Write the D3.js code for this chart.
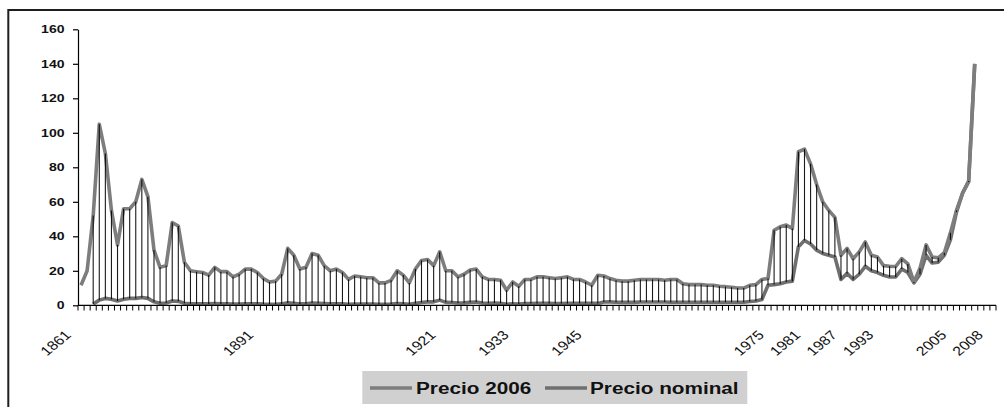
<!DOCTYPE html>
<html><head><meta charset="utf-8">
<script src="https://cdn.jsdelivr.net/npm/d3@7"></script>
<style>html,body{margin:0;padding:0;background:#fff}svg{display:block}</style>
</head><body>
<script>
// Axis slots (category axis, one per year, plus 3 trailing empty slots)
const slots = d3.range(1861, 2012);
const firstYear = 1861;
// Precio 2006 (real, 2006 dollars) 1861..2008
const precio2006 = [
 11.6,20,52,105,88,55,35,56,56,60, 73,63,32,22,23,48,46,25,20,19.5,
 19,17.5,22,19.5,19.5,16.5,18,21,21,19, 15.5,13.5,14,18,33,29,21,22,30,29,
 23,20,21,19,15,17,16.5,16,16,13, 13,14.5,20,17.5,13,21,26,26.5,23,31,
 20,20,16.5,18,20.5,21,16.5,15,15,14.5, 8.7,13.5,11,15,15,16.5,16.5,16,15.5,16,
 16.5,15,15,13.5,11.6,17.4,17,15.5,14.5,14, 14,14.5,15,15,15,15,14.5,15,15,12.5,
 12,12,12,11.6,11.6,11,10.8,10.5,10,10, 11.6,12,15,15.5,43.5,45.5,46.5,44.5,89,90.5,
 82,70,60,55,51,29,33,27,31,36.7, 29,28,23,22.6,22.5,27,24,13.5,21.5,35,
 28,27.5,30.5,42,55,65,71.5,140
];
// Precio nominal 1861..2008
const precioNominal = [
 null,null,0.8,3,4,3.5,2.5,3.5,4,4, 4.5,4,2,1.2,1.3,2.5,2.3,1.2,0.9,0.9,
 0.9,0.8,1,0.8,0.9,0.7,0.7,0.9,0.9,0.9, 0.7,0.6,0.6,0.8,1.4,1.2,0.8,0.9,1.3,1.2,
 1,0.8,0.9,0.9,0.6,0.7,0.7,0.7,0.7,0.6, 0.6,0.7,1,0.8,0.6,1.1,1.6,2,2,3,
 1.7,1.6,1.3,1.4,1.7,1.9,1.3,1.2,1.3,1.2, 0.65,0.9,0.7,1,1,1.1,1.2,1.1,1,1,
 1.1,1.2,1.2,1.2,1.1,1.1,1.9,2,1.8,1.7, 1.7,1.7,1.9,1.9,1.9,1.9,1.9,1.8,1.8,1.8,
 1.8,1.8,1.8,1.8,1.8,1.8,1.8,1.8,1.8,1.8, 2.2,2.5,3.3,11.6,12,12.5,13.5,14,34,37.6,
 35.5,32,30,29,28,15,18.5,15,18,22.6, 20,19,17.4,16.4,16.4,21,19,13,18,29,
 24.5,25,29,38,54,65,72,140
];
const yTicks = [0,20,40,60,80,100,120,140,160];
const tickSlots = [1861,1891,1921,1933,1945,1975,1981,1987,1993,2005,2011];
const tickLabels = ["1861","1891","1921","1933","1945","1975","1981","1987","1993","2005","2008"];
const seriesNames = ["Precio 2006","Precio nominal"];
const seriesColors = ["#7d7d7d","#6f6f6f"];

const W = 1004, H = 407;
const svg = d3.select("body").append("svg").attr("width", W).attr("height", H);
svg.append("rect").attr("width", W).attr("height", H).attr("fill", "#fff");
// outer frame
svg.append("rect").attr("x", 8.3).attr("y", 10).attr("width", 1100).attr("height", 600)
  .attr("fill", "none").attr("stroke", "#1e1e1e").attr("stroke-width", 2);

const x = d3.scaleBand().domain(slots).range([78, 996]).paddingInner(0).paddingOuter(0);
const y = d3.scaleLinear().domain([0, 160]).range([305.3, 29.3]);
const cx = yr => x(yr) + x.bandwidth() / 2;
const SX = 1.22;

const data = precio2006.map((v, i) => ({year: firstYear + i, real: v, nom: precioNominal[i]}));

// series lines
const lineReal = d3.line().x(d => cx(d.year)).y(d => y(d.real));
const lineNom = d3.line().defined(d => d.nom != null).x(d => cx(d.year)).y(d => y(d.nom));
svg.append("path").datum(data).attr("d", lineNom).attr("fill", "none")
  .attr("stroke", seriesColors[1]).attr("stroke-width", 3.6).attr("stroke-linejoin", "round");
svg.append("path").datum(data).attr("d", lineReal).attr("fill", "none")
  .attr("stroke", seriesColors[0]).attr("stroke-width", 3.6).attr("stroke-linejoin", "round");

// hi-lo lines on top
svg.append("g").selectAll("line").data(data.filter(d => d.nom != null)).join("line")
  .attr("x1", d => cx(d.year)).attr("x2", d => cx(d.year))
  .attr("y1", d => y(d.nom)).attr("y2", d => y(d.real))
  .attr("stroke", "#000").attr("stroke-width", 1.1).attr("stroke-opacity", 0.9);

// axes
const yAxisG = svg.append("g").attr("transform", "translate(78,0)")
  .call(d3.axisLeft(y).tickValues(yTicks).tickSize(5).tickSizeOuter(0).tickFormat(() => ""));
yAxisG.select(".domain").attr("stroke", "#000").attr("stroke-width", 1.2);
yAxisG.selectAll(".tick line").attr("stroke", "#000").attr("stroke-width", 1.2);
svg.append("g").selectAll("text").data(yTicks).join("text")
  .attr("transform", d => `translate(64.5,${y(d)}) scale(${SX},1)`)
  .attr("text-anchor", "end").attr("dy", "0.36em")
  .attr("font-family", "Liberation Sans, Arial, sans-serif").attr("font-weight", "bold")
  .attr("font-size", 11.5).attr("fill", "#111").text(d => d);

// x axis with tick at every category boundary
const xAxisG = svg.append("g");
xAxisG.append("line").attr("x1", 78).attr("x2", 996).attr("y1", 305.3).attr("y2", 305.3)
  .attr("stroke", "#000").attr("stroke-width", 1.2);
xAxisG.selectAll("line.t").data(slots.concat([null])).join("line").attr("class", "t")
  .attr("x1", (d, i) => 78 + i * x.step()).attr("x2", (d, i) => 78 + i * x.step())
  .attr("y1", 305.3).attr("y2", 310.5).attr("stroke", "#000").attr("stroke-width", 1);
xAxisG.selectAll("text").data(tickSlots).join("text")
  .attr("transform", d => `translate(${cx(d) - 9},336) scale(${SX},1) rotate(-45)`)
  .attr("text-anchor", "end")
  .attr("font-family", "Liberation Sans, Arial, sans-serif")
  .attr("font-size", 13).attr("fill", "#111").text((d, i) => tickLabels[i]);

// legend
const lg = svg.append("g");
lg.append("rect").attr("x", 362.3).attr("y", 371).attr("width", 385).attr("height", 33).attr("fill", "#d0d0d0");
const legX = [[370, 416], [545, 590]];
seriesNames.forEach((n, i) => {
  lg.append("line").attr("x1", legX[i][0]).attr("x2", legX[i][0] + 42).attr("y1", 388).attr("y2", 388)
    .attr("stroke", seriesColors[i]).attr("stroke-width", 3.4);
  lg.append("text").attr("transform", `translate(${legX[i][1]},394) scale(${SX},1)`)
    .attr("font-family", "Liberation Sans, Arial, sans-serif").attr("font-weight", "bold")
    .attr("font-size", 17).attr("fill", "#111").text(n);
});
</script>
</body></html>
